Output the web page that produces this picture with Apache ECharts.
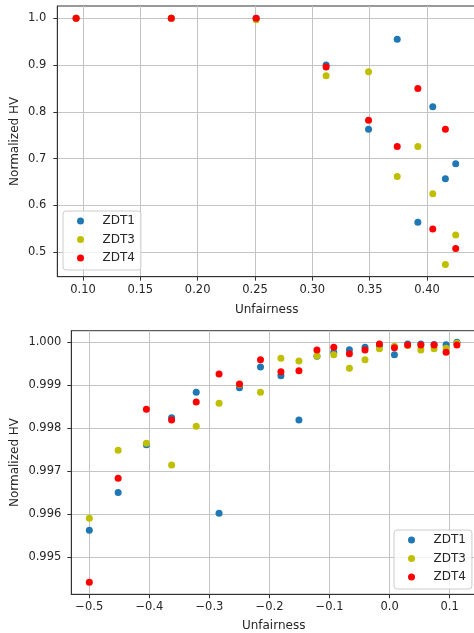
<!DOCTYPE html>
<html>
<head>
<meta charset="utf-8">
<script src="https://cdn.jsdelivr.net/npm/echarts@6/dist/echarts.min.js"></script>
<style>
html, body {margin:0; padding:0; background:#fff;}
#scatter1 {position:absolute; left:0; top:0; width:474px; height:317px;}
#scatter2 {position:absolute; left:0; top:317px; width:474px; height:316px;}
</style>
</head>
<body>
<div id="scatter1"></div>
<div id="scatter2"></div>
<script>
var names = ['ZDT1', 'ZDT3', 'ZDT4'];
var colors = ['#1f77b4', '#bfbf00', '#ff0000'];

// top plot
var unfairTop = [0.094, 0.177, 0.251, 0.312, 0.349, 0.374, 0.392, 0.405, 0.416, 0.425];
var zdt1Top = [1.0, 1.0, 1.0, 0.900, 0.763, 0.955, 0.564, 0.811, 0.657, 0.689];
var zdt3Top = [1.0, 1.0, 0.997, 0.877, 0.886, 0.662, 0.726, 0.625, 0.474, 0.537];
var zdt4Top = [1.0, 1.0, 1.0, 0.896, 0.782, 0.726, 0.850, 0.550, 0.763, 0.508];
var xTicksTop = [0.10, 0.15, 0.20, 0.25, 0.30, 0.35, 0.40];
var yTicksTop = [0.5, 0.6, 0.7, 0.8, 0.9, 1.0];

// bottom plot
var unfairBot = [-0.500, -0.452, -0.405, -0.363, -0.322, -0.284, -0.250, -0.215, -0.181, -0.151, -0.121,
                 -0.093, -0.067, -0.041, -0.017, 0.008, 0.030, 0.052, 0.074, 0.094, 0.112];
var zdt1Bot = [0.995627, 0.996502, 0.997616, 0.998243, 0.998831, 0.996022, 0.998940, 0.999420, 0.999218, 0.998189, 0.999670,
               0.999760, 0.999822, 0.999876, 0.999910, 0.999706, 0.999954, 0.999954, 0.999940, 0.999938, 0.999992];
var zdt3Bot = [0.995906, 0.997485, 0.997647, 0.997144, 0.998042, 0.998576, 0.999010, 0.998832, 0.999621, 0.999559, 0.999675,
               0.999706, 0.999389, 0.999590, 0.999845, 0.999900, 0.999920, 0.999814, 0.999845, 0.999853, 0.999970];
var zdt4Bot = [0.994420, 0.996835, 0.998437, 0.998189, 0.998607, 0.999257, 0.999025, 0.999590, 0.999311, 0.999334, 0.999814,
               0.999876, 0.999729, 0.999814, 0.999954, 0.999868, 0.999930, 0.999930, 0.999930, 0.999760, 0.999930];
var xTicksBot = [-0.5, -0.4, -0.3, -0.2, -0.1, 0.0, 0.1];
var yTicksBot = [0.995, 0.996, 0.997, 0.998, 0.999, 1.000];

var font = 'DejaVu Sans';

function pairs(xs, ys){
	var out = [];
	for (var i = 0; i < xs.length; i++) {
		out.push([xs[i], ys[i]]);
	}
	return out;
}

function fmt(digits){
	return function(v){
		var s = Math.abs(v).toFixed(digits);
		return v < -1e-9 ? '\u2212' + s : s;
	};
}

function axis(o){
	return {
		type: 'value',
		min: o.min,
		max: o.max,
		name: o.name,
		nameLocation: 'middle',
		nameGap: o.nameGap,
		nameMoveOverlap: false,
		nameTextStyle: {color: '#262626', fontSize: 12, fontFamily: font},
		axisLine: {show: true, onZero: false, lineStyle: {color: '#333', width: 1}},
		axisTick: {show: true, length: 4, customValues: o.ticks, lineStyle: {color: '#333', width: 1}},
		axisLabel: {
			customValues: o.ticks,
			margin: o.margin,
			color: '#262626',
			fontSize: 11.5,
			fontFamily: font,
			formatter: fmt(o.digits)
		},
		splitLine: {show: true, lineStyle: {color: '#c4c4c4', width: 1}}
	};
}

function legend(left, top){
	return {
		data: names,
		orient: 'vertical',
		left: left,
		top: top,
		icon: 'circle',
		itemWidth: 7,
		itemHeight: 7,
		itemGap: 4.5,
		padding: [3, 6, 5, 14],
		backgroundColor: 'rgba(255,255,255,0.8)',
		borderColor: '#cccccc',
		borderWidth: 1,
		borderRadius: 3,
		formatter: '{t|{name}}',
		textStyle: {
			color: '#262626', fontSize: 12, lineHeight: 14, fontFamily: font,
			rich: {t: {padding: [0, 0, 0, 13.5], fontSize: 12, lineHeight: 14, fontFamily: font, color: '#262626'}}
		}
	};
}

function series(xs, lists){
	var s = [];
	for (var i = 0; i < names.length; i++) {
		s.push({
			name: names[i],
			type: 'scatter',
			symbolSize: 7,
			itemStyle: {color: colors[i], opacity: 1},
			data: pairs(xs, lists[i])
		});
	}
	return s;
}

//上图
(function(){
var scatter1 = echarts.init(document.getElementById('scatter1'));
var option = {
	animation: false,
	legend: legend(63, 211),
	grid: {
		left: 57.3, top: 6, right: -2, bottom: 40.3,
		containLabel: false, outerBoundsMode: 'none',
		show: true, borderColor: '#333', borderWidth: 1
	},
	xAxis: axis({min: 0.0776, max: 0.4427, ticks: xTicksTop, digits: 2, name: 'Unfairness', nameGap: 27, margin: 7}),
	yAxis: axis({min: 0.4479, max: 1.0263, ticks: yTicksTop, digits: 1, name: 'Normalized HV', nameGap: 36, margin: 11}),
	series: series(unfairTop, [zdt1Top, zdt3Top, zdt4Top])
};
scatter1.setOption(option);
})();

//下图
(function(){
var scatter2 = echarts.init(document.getElementById('scatter2'));
var option = {
	animation: false,
	legend: legend(394, 213),
	grid: {
		left: 71.3, top: 13.7, right: -2, bottom: 38.7,
		containLabel: false, outerBoundsMode: 'none',
		show: true, borderColor: '#333', borderWidth: 1
	},
	xAxis: axis({min: -0.530, max: 0.1438, ticks: xTicksBot, digits: 1, name: 'Unfairness', nameGap: 26, margin: 7}),
	yAxis: axis({min: 0.994141, max: 1.000262, ticks: yTicksBot, digits: 3, name: 'Normalized HV', nameGap: 50, margin: 10}),
	series: series(unfairBot, [zdt1Bot, zdt3Bot, zdt4Bot])
};
scatter2.setOption(option);
})();
</script>
</body>
</html>
